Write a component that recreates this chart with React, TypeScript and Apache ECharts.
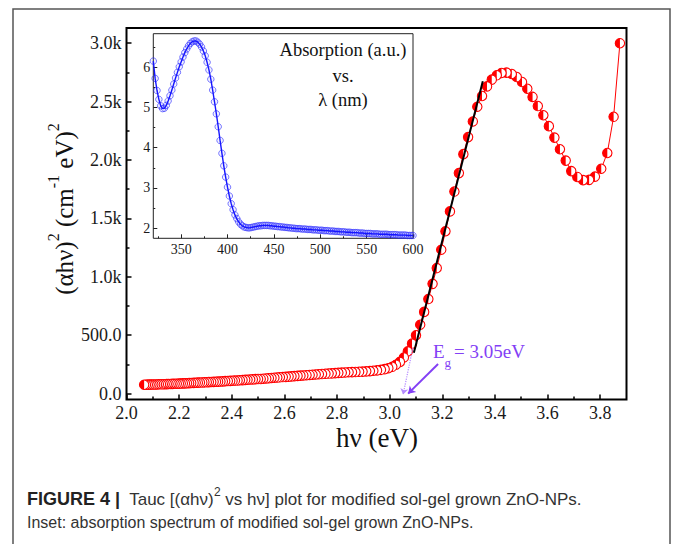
import React, { useEffect, useRef } from "react";
import * as echarts from "echarts";

// ---------- DATA ----------
// Inset: absorption spectrum, wavelength (nm) vs absorbance (a.u.)
const WAVELENGTH_NM = [
  320, 322, 324, 326, 328, 330, 332, 334, 336, 338, 340, 342, 344, 346, 348, 350, 352, 354, 356, 358,
  360, 362, 364, 366, 368, 370, 372, 374, 376, 378, 380, 382, 384, 386, 388, 390, 392, 394, 396, 398,
  400, 402, 404, 406, 408, 410, 412, 414, 416, 418, 420, 422, 424, 426, 428, 430, 432, 434, 436, 438,
  440, 442, 444, 446, 448, 450, 452, 454, 456, 458, 460, 462, 464, 466, 468, 470, 472, 474, 476, 478,
  480, 482, 484, 486, 488, 490, 492, 494, 496, 498, 500, 502, 504, 506, 508, 510, 512, 514, 516, 518,
  520, 522, 524, 526, 528, 530, 532, 534, 536, 538, 540, 542, 544, 546, 548, 550, 552, 554, 556, 558,
  560, 562, 564, 566, 568, 570, 572, 574, 576, 578, 580, 582, 584, 586, 588, 590, 592, 594, 596, 598,
  600,
];
const ABSORBANCE = [
  6.15, 5.72, 5.42, 5.2, 5.04, 4.97, 4.98, 5.05, 5.16, 5.29, 5.43, 5.58, 5.73, 5.87, 6.01, 6.13, 6.25, 6.36, 6.45, 6.53,
  6.59, 6.63, 6.65, 6.65, 6.62, 6.57, 6.5, 6.4, 6.28, 6.12, 5.93, 5.7, 5.43, 5.14, 4.84, 4.52, 4.18, 3.86, 3.55, 3.27,
  3.02, 2.8, 2.61, 2.46, 2.33, 2.24, 2.16, 2.1, 2.06, 2.03, 2.02, 2.01, 2.01, 2.02, 2.03, 2.04, 2.05, 2.06, 2.06, 2.07,
  2.07, 2.07, 2.07, 2.06, 2.06, 2.05, 2.05, 2.04, 2.04, 2.03, 2.03, 2.02, 2.02, 2.01, 2.01, 2.0, 2.0, 1.99, 1.99, 1.99,
  1.98, 1.98, 1.98, 1.97, 1.97, 1.97, 1.96, 1.96, 1.96, 1.95, 1.95, 1.95, 1.94, 1.94, 1.94, 1.93, 1.93, 1.93, 1.92, 1.92,
  1.92, 1.91, 1.91, 1.91, 1.9, 1.9, 1.9, 1.89, 1.89, 1.89, 1.89, 1.88, 1.88, 1.88, 1.87, 1.87, 1.87, 1.87, 1.86, 1.86,
  1.86, 1.86, 1.85, 1.85, 1.85, 1.85, 1.85, 1.84, 1.84, 1.84, 1.84, 1.84, 1.83, 1.83, 1.83, 1.83, 1.83, 1.82, 1.82, 1.82,
  1.82,
];

// Main: Tauc plot, photon energy (eV) vs (alpha h nu)^2
const PHOTON_ENERGY_EV = [
  3.875, 3.851, 3.827, 3.804, 3.78, 3.758, 3.735, 3.713, 3.69, 3.669, 3.647, 3.626, 3.605, 3.584, 3.563, 3.543, 3.523, 3.503, 3.483, 3.464,
  3.444, 3.425, 3.407, 3.388, 3.37, 3.351, 3.333, 3.316, 3.298, 3.28, 3.263, 3.246, 3.229, 3.212, 3.196, 3.179, 3.163, 3.147, 3.131, 3.116,
  3.1, 3.085, 3.069, 3.054, 3.039, 3.024, 3.01, 2.995, 2.981, 2.967, 2.952, 2.938, 2.925, 2.911, 2.897, 2.884, 2.87, 2.857, 2.844, 2.831,
  2.818, 2.805, 2.793, 2.78, 2.768, 2.756, 2.743, 2.731, 2.719, 2.707, 2.696, 2.684, 2.672, 2.661, 2.65, 2.638, 2.627, 2.616, 2.605, 2.594,
  2.583, 2.573, 2.562, 2.551, 2.541, 2.531, 2.52, 2.51, 2.5, 2.49, 2.48, 2.47, 2.46, 2.451, 2.441, 2.431, 2.422, 2.412, 2.403, 2.394,
  2.385, 2.375, 2.366, 2.357, 2.348, 2.34, 2.331, 2.322, 2.313, 2.305, 2.296, 2.288, 2.279, 2.271, 2.263, 2.255, 2.246, 2.238, 2.23, 2.222,
  2.214, 2.206, 2.199, 2.191, 2.183, 2.175, 2.168, 2.16, 2.153, 2.145, 2.138, 2.131, 2.123, 2.116, 2.109, 2.102, 2.095, 2.088, 2.081, 2.074,
  2.067,
];
const TAUC_VALUES = [
  3000, 2370, 2060, 1925, 1858, 1830, 1828, 1855, 1905, 1995, 2092, 2192, 2290, 2383, 2462, 2540, 2610, 2668, 2710, 2736,
  2748, 2745, 2725, 2688, 2630, 2548, 2456, 2330, 2196, 2050, 1888, 1730, 1560, 1390, 1232, 1075, 940, 810, 700, 590,
  500, 428, 362, 310, 272, 248, 230, 218, 210, 204, 199, 196, 193, 191, 189, 187, 185, 184, 183, 181,
  180, 178, 176, 174, 172, 170, 168, 166, 164, 162, 160, 158, 156, 154, 152, 150, 148, 146, 144, 142,
  140, 138, 136, 134, 132, 130, 128, 126, 125, 124, 122, 121, 119, 118, 116, 115, 113, 112, 110, 109,
  108, 107, 105, 104, 103, 102, 101, 100, 99, 98, 97, 96, 95, 94, 93, 92, 91, 90, 89, 88,
  88, 87, 86, 85, 85, 84, 83, 83, 82, 81, 81, 80, 80, 79, 79, 78, 78, 77, 77, 76,
  76,
];

// Linear fit of the absorption edge and its extrapolation
const FIT_LINE = [
  [3.092, 350],
  [3.354, 2675],
];
const EXTRAPOLATION = [
  [3.088, 390],
  [3.051, -8],
];
const EG_POINTER = [
  [3.184, 254],
  [3.07, 0],
];

// Ticks
const X_MAJOR = [2.0, 2.2, 2.4, 2.6, 2.8, 3.0, 3.2, 3.4, 3.6, 3.8];
const X_MINOR = [2.1, 2.3, 2.5, 2.7, 2.9, 3.1, 3.3, 3.5, 3.7];
const Y_MAJOR = [0, 500, 1000, 1500, 2000, 2500, 3000];
const Y_TICK_LABELS = ["0.0", "500.0", "1.0k", "1.5k", "2.0k", "2.5k", "3.0k"];
const Y_MINOR = [250, 750, 1250, 1750, 2250, 2750];
const INSET_X_MAJOR = [350, 400, 450, 500, 550, 600];
const INSET_X_MINOR = [325, 375, 425, 475, 525, 575];
const INSET_Y_MAJOR = [2, 3, 4, 5, 6];
const INSET_Y_MINOR = [2.5, 3.5, 4.5, 5.5, 6.5];

const SERIF = "'Liberation Serif', 'Times New Roman', serif";
const SANS = "'Liberation Sans', Arial, sans-serif";
const PURPLE = "#8340f5";

export default function App() {
  const ref = useRef<HTMLDivElement>(null);

  useEffect(() => {
    if (!ref.current) return;
    const chart = echarts.init(ref.current, undefined, { renderer: "svg" });

    const tauc = PHOTON_ENERGY_EV.map((e, i) => [e, TAUC_VALUES[i]]);
    const absorb = WAVELENGTH_NM.map((w, i) => [w, ABSORBANCE[i]]);

    const tickStyle = { color: "#000", width: 1.5 };
    const insetTick = { color: "#222", width: 1 };

    const option: any = {
      animation: false,
      backgroundColor: "#fff",
      grid: [
        {
          left: 126.5, top: 28, width: 500, height: 371.5,
          show: true, borderColor: "#000", borderWidth: 2, backgroundColor: "transparent",
        },
        {
          left: 153.3, top: 33.7, width: 259.7, height: 204.6,
          show: true, borderColor: "#222", borderWidth: 1, backgroundColor: "#fff",
        },
      ],
      xAxis: [
        {
          gridIndex: 0, type: "value", min: 2.0, max: 3.9, position: "bottom",
          axisLine: { show: false, onZero: false }, splitLine: { show: false },
          axisTick: { inside: true, length: 5, lineStyle: tickStyle, customValues: X_MAJOR },
          axisLabel: {
            customValues: X_MAJOR, formatter: (v: number) => v.toFixed(1),
            fontFamily: SERIF, fontSize: 18, color: "#1a1a1a", margin: 4,
          },
        },
        {
          gridIndex: 0, type: "value", min: 2.0, max: 3.9, position: "bottom",
          axisLine: { show: false, onZero: false }, splitLine: { show: false },
          axisTick: { inside: true, length: 3, lineStyle: tickStyle, customValues: X_MINOR },
          axisLabel: { show: false },
        },
        {
          gridIndex: 1, type: "value", min: 320, max: 600, position: "bottom",
          axisLine: { show: false, onZero: false }, splitLine: { show: false },
          axisTick: { inside: true, length: 4, lineStyle: insetTick, customValues: INSET_X_MAJOR },
          axisLabel: {
            customValues: INSET_X_MAJOR, fontFamily: SERIF, fontSize: 14, color: "#1a1a1a", margin: 4,
          },
        },
        {
          gridIndex: 1, type: "value", min: 320, max: 600, position: "bottom",
          axisLine: { show: false, onZero: false }, splitLine: { show: false },
          axisTick: { inside: true, length: 2, lineStyle: insetTick, customValues: INSET_X_MINOR },
          axisLabel: { show: false },
        },
      ],
      yAxis: [
        {
          gridIndex: 0, type: "value", min: -50, max: 3130, position: "left",
          axisLine: { show: false, onZero: false }, splitLine: { show: false },
          axisTick: { inside: true, length: 5, lineStyle: tickStyle, customValues: Y_MAJOR },
          axisLabel: {
            customValues: Y_MAJOR,
            formatter: (v: number) => {
              const i = Y_MAJOR.indexOf(Math.round(v));
              return i >= 0 ? Y_TICK_LABELS[i] : "";
            },
            fontFamily: SERIF, fontSize: 18, color: "#1a1a1a", margin: 5,
          },
        },
        {
          gridIndex: 0, type: "value", min: -50, max: 3130, position: "left",
          axisLine: { show: false, onZero: false }, splitLine: { show: false },
          axisTick: { inside: true, length: 3, lineStyle: tickStyle, customValues: Y_MINOR },
          axisLabel: { show: false },
        },
        {
          gridIndex: 1, type: "value", min: 1.75, max: 6.83, position: "left",
          axisLine: { show: false, onZero: false }, splitLine: { show: false },
          axisTick: { inside: true, length: 4, lineStyle: insetTick, customValues: INSET_Y_MAJOR },
          axisLabel: {
            customValues: INSET_Y_MAJOR, fontFamily: SERIF, fontSize: 14, color: "#1a1a1a", margin: 3,
          },
        },
        {
          gridIndex: 1, type: "value", min: 1.75, max: 6.83, position: "left",
          axisLine: { show: false, onZero: false }, splitLine: { show: false },
          axisTick: { inside: true, length: 2, lineStyle: insetTick, customValues: INSET_Y_MINOR },
          axisLabel: { show: false },
        },
      ],
      series: [
        {
          type: "line", xAxisIndex: 0, yAxisIndex: 0, data: tauc, showSymbol: false,
          lineStyle: { color: "#ff0000", width: 1 }, z: 2, silent: true,
        },
        {
          type: "custom", xAxisIndex: 0, yAxisIndex: 0, data: tauc, z: 3,
          encode: { x: 0, y: 1 },
          renderItem: (params: any, api: any) => {
            const p = api.coord([api.value(0), api.value(1)]);
            const r = 4.7;
            return {
              type: "group",
              children: [
                {
                  type: "circle",
                  shape: { cx: p[0], cy: p[1], r },
                  style: { fill: "#ffffff", stroke: "#ff0000", lineWidth: 1.1 },
                },
                {
                  type: "sector",
                  shape: { cx: p[0], cy: p[1], r0: 0, r, startAngle: Math.PI / 2, endAngle: (3 * Math.PI) / 2, clockwise: true },
                  style: { fill: "#ff0000" },
                },
              ],
            };
          },
        },
        {
          type: "line", xAxisIndex: 0, yAxisIndex: 0, data: FIT_LINE, showSymbol: false,
          lineStyle: { color: "#000", width: 2 }, z: 5,
        },
        {
          type: "lines", coordinateSystem: "cartesian2d", xAxisIndex: 0, yAxisIndex: 0, z: 6,
          data: [{ coords: EXTRAPOLATION }],
          symbol: ["none", "arrow"], symbolSize: 6,
          lineStyle: { color: "#b58cff", width: 1.2, type: "dotted", opacity: 1 },
        },
        {
          type: "lines", coordinateSystem: "cartesian2d", xAxisIndex: 0, yAxisIndex: 0, z: 6,
          data: [{ coords: EG_POINTER }],
          symbol: ["none", "arrow"], symbolSize: 7,
          lineStyle: { color: PURPLE, width: 2, opacity: 1 },
        },
        {
          type: "scatter", xAxisIndex: 2, yAxisIndex: 2, data: absorb, z: 3,
          symbol: "circle", symbolSize: 6.5,
          itemStyle: { color: "rgba(120,120,255,0.12)", borderColor: "rgba(40,40,255,0.75)", borderWidth: 1 },
        },
        {
          type: "line", xAxisIndex: 2, yAxisIndex: 2, data: absorb, showSymbol: false, z: 4,
          lineStyle: { color: "#1515ff", width: 1.4 },
        },
      ],
      graphic: [
        {
          type: "rect", shape: { x: 13, y: 9, width: 657, height: 570 },
          style: { fill: "none", stroke: "#555", lineWidth: 1.5 }, silent: true,
        },
        {
          type: "text", x: 61, y: 209, rotation: Math.PI / 2,
          style: {
            text: "{m|(αhν)}{s|2}{m| (cm}{s|-1}{m| eV)}{s|2}",
            align: "center", verticalAlign: "middle",
            rich: {
              m: { fontFamily: SERIF, fontSize: 25, fill: "#111", lineHeight: 31, verticalAlign: "bottom" },
              s: { fontFamily: SERIF, fontSize: 16, fill: "#111", lineHeight: 31, verticalAlign: "top" },
            },
          },
        },
        {
          type: "text", x: 377, y: 438,
          style: { text: "hν (eV)", fontFamily: SERIF, fontSize: 27, fill: "#111", align: "center", verticalAlign: "middle" },
        },
        {
          type: "text", x: 343, y: 50,
          style: { text: "Absorption (a.u.)", fontFamily: SERIF, fontSize: 18.5, fill: "#111", align: "center", verticalAlign: "middle" },
        },
        {
          type: "text", x: 343, y: 76,
          style: { text: "vs.", fontFamily: SERIF, fontSize: 18.5, fill: "#111", align: "center", verticalAlign: "middle" },
        },
        {
          type: "text", x: 343, y: 100,
          style: { text: "λ (nm)", fontFamily: SERIF, fontSize: 18.5, fill: "#111", align: "center", verticalAlign: "middle" },
        },
        {
          type: "text", x: 433, y: 351,
          style: { text: "E", fontFamily: SERIF, fontSize: 19, fill: PURPLE, align: "left", verticalAlign: "middle" },
        },
        {
          type: "text", x: 444.5, y: 362,
          style: { text: "g", fontFamily: SERIF, fontSize: 13, fill: PURPLE, align: "left", verticalAlign: "middle" },
        },
        {
          type: "text", x: 454, y: 351,
          style: { text: "= 3.05eV", fontFamily: SERIF, fontSize: 19, fill: PURPLE, align: "left", verticalAlign: "middle" },
        },
        {
          type: "text", x: 27, y: 497,
          style: {
            text: "{b|FIGURE 4 |}{n|  Tauc [(αhν)}{s|2}{n| vs hν] plot for modified sol-gel grown ZnO-NPs.}",
            align: "left", verticalAlign: "middle",
            rich: {
              b: { fontFamily: SANS, fontSize: 18, fontWeight: "bold", fill: "#222", lineHeight: 22, verticalAlign: "bottom" },
              n: { fontFamily: SANS, fontSize: 17, fill: "#333", lineHeight: 22, verticalAlign: "bottom" },
              s: { fontFamily: SANS, fontSize: 12, fill: "#333", lineHeight: 22, verticalAlign: "top" },
            },
          },
        },
        {
          type: "text", x: 27, y: 522,
          style: {
            text: "Inset: absorption spectrum of modified sol-gel grown ZnO-NPs.",
            fontFamily: SANS, fontSize: 16, fill: "#333", align: "left", verticalAlign: "middle",
          },
        },
      ],
    };

    chart.setOption(option);
    return () => chart.dispose();
  }, []);

  return (
    <div
      ref={ref}
      style={{ position: "fixed", left: 0, top: 0, width: 673, height: 544, background: "#fff" }}
    />
  );
}
